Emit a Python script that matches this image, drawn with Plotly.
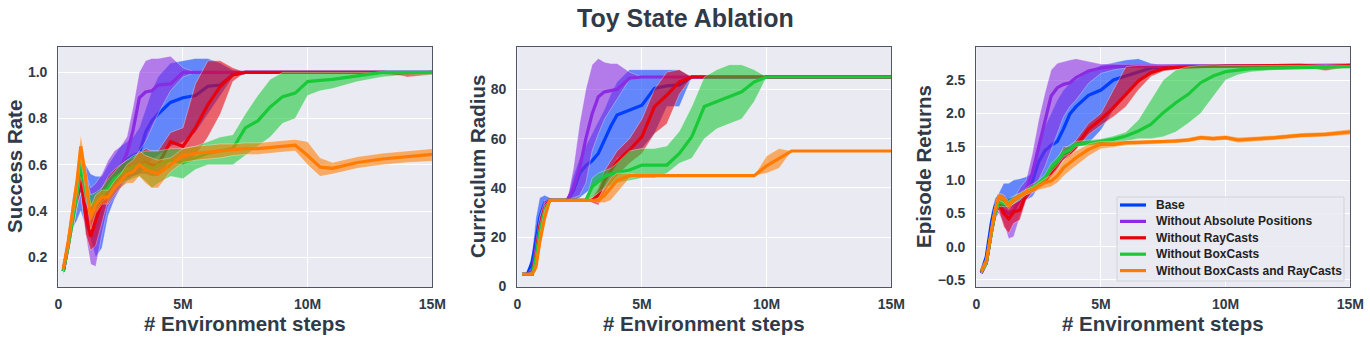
import plotly.graph_objects as go

# environment steps (millions)
steps = [0.2, 0.4, 0.6, 0.75, 0.9, 1.1, 1.3, 1.5, 1.75, 2.0, 2.25, 2.5, 2.75, 3.0, 3.25, 3.5,
         3.75, 4.0, 4.5, 5.0, 5.5, 6.0, 6.5, 7.0, 7.5, 8.0, 8.5, 9.0, 9.5, 10.0, 10.5, 11.0,
         12.0, 13.0, 14.0, 15.0]

names = ['Base', 'Without Absolute Positions', 'Without RayCasts', 'Without BoxCasts',
         'Without BoxCasts and RayCasts']
colors = ['#023EFF', '#8B2BE2', '#E8000B', '#1AC938', '#FF7C00']

# ---------------- Success Rate ----------------
sr_base = [0.14, 0.26, 0.40, 0.47, 0.55, 0.47, 0.42, 0.42, 0.45, 0.50, 0.54, 0.58, 0.62, 0.64, 0.65, 0.74,
           0.79, 0.82, 0.87, 0.89, 0.90, 0.94, 0.945, 0.99, 1.0, 1.0, 1.0, 1.0, 1.0, 1.0, 1.0, 1.0,
           1.0, 1.0, 1.0, 1.0]
sr_base_lo = [0.13, 0.22, 0.33, 0.36, 0.40, 0.33, 0.28, 0.20, 0.24, 0.38, 0.45, 0.50, 0.53, 0.55, 0.56, 0.60,
              0.62, 0.64, 0.68, 0.70, 0.74, 0.82, 0.90, 0.98, 1.0, 1.0, 1.0, 1.0, 1.0, 1.0, 1.0, 1.0,
              1.0, 1.0, 1.0, 1.0]
sr_base_hi = [0.15, 0.30, 0.47, 0.55, 0.62, 0.60, 0.56, 0.55, 0.55, 0.60, 0.64, 0.68, 0.70, 0.72, 0.76, 0.84,
              0.92, 0.98, 1.04, 1.05, 1.06, 1.06, 1.04, 1.01, 1.0, 1.0, 1.0, 1.0, 1.0, 1.0, 1.0, 1.0,
              1.0, 1.0, 1.0, 1.0]

sr_abs = [0.14, 0.25, 0.38, 0.48, 0.56, 0.45, 0.33, 0.40, 0.46, 0.50, 0.53, 0.59, 0.65, 0.75, 0.89, 0.915,
          0.92, 0.945, 0.95, 1.0, 1.0, 1.0, 1.0, 1.0, 1.0, 1.0, 1.0, 1.0, 1.0, 1.0, 1.0, 1.0,
          1.0, 1.0, 1.0, 1.0]
sr_abs_lo = [0.12, 0.22, 0.33, 0.42, 0.48, 0.30, 0.17, 0.16, 0.30, 0.42, 0.46, 0.50, 0.55, 0.62, 0.66, 0.70,
             0.76, 0.82, 0.92, 0.98, 1.0, 1.0, 1.0, 1.0, 1.0, 1.0, 1.0, 1.0, 1.0, 1.0, 1.0, 1.0,
             1.0, 1.0, 1.0, 1.0]
sr_abs_hi = [0.15, 0.28, 0.43, 0.54, 0.62, 0.56, 0.50, 0.52, 0.56, 0.62, 0.66, 0.68, 0.72, 0.85, 1.00, 1.05,
             1.06, 1.06, 1.07, 1.02, 1.0, 1.0, 1.0, 1.0, 1.0, 1.0, 1.0, 1.0, 1.0, 1.0, 1.0, 1.0,
             1.0, 1.0, 1.0, 1.0]

sr_ray = [0.14, 0.25, 0.38, 0.47, 0.55, 0.38, 0.29, 0.36, 0.44, 0.50, 0.54, 0.56, 0.58, 0.59, 0.60, 0.61,
          0.60, 0.60, 0.70, 0.68, 0.76, 0.86, 0.94, 0.99, 1.0, 1.0, 1.0, 1.0, 1.0, 1.0, 1.0, 1.0,
          1.0, 1.0, 0.995, 1.0]
sr_ray_lo = [0.13, 0.22, 0.33, 0.42, 0.48, 0.30, 0.23, 0.25, 0.35, 0.45, 0.50, 0.52, 0.54, 0.55, 0.56, 0.56,
             0.55, 0.55, 0.62, 0.60, 0.64, 0.72, 0.82, 0.96, 1.0, 1.0, 1.0, 1.0, 1.0, 1.0, 1.0, 1.0,
             1.0, 1.0, 0.98, 0.99]
sr_ray_hi = [0.15, 0.28, 0.43, 0.52, 0.60, 0.46, 0.36, 0.44, 0.50, 0.55, 0.58, 0.60, 0.62, 0.63, 0.65, 0.67,
             0.66, 0.66, 0.74, 0.76, 0.95, 1.05, 1.05, 1.02, 1.0, 1.0, 1.0, 1.0, 1.0, 1.0, 1.0, 1.0,
             1.0, 1.0, 1.0, 1.0]

sr_box = [0.14, 0.25, 0.38, 0.48, 0.61, 0.49, 0.42, 0.44, 0.47, 0.50, 0.54, 0.56, 0.58, 0.59, 0.60, 0.60,
          0.58, 0.60, 0.62, 0.61, 0.63, 0.65, 0.66, 0.67, 0.76, 0.79, 0.85, 0.895, 0.91, 0.96, 0.965, 0.97,
          0.985, 1.0, 1.0, 1.0]
sr_box_lo = [0.13, 0.22, 0.33, 0.42, 0.55, 0.44, 0.38, 0.40, 0.44, 0.46, 0.50, 0.52, 0.53, 0.54, 0.55, 0.53,
             0.50, 0.52, 0.55, 0.54, 0.58, 0.60, 0.60, 0.60, 0.64, 0.68, 0.72, 0.78, 0.80, 0.90, 0.92, 0.93,
             0.96, 0.98, 0.99, 0.99]
sr_box_hi = [0.15, 0.28, 0.43, 0.53, 0.65, 0.56, 0.47, 0.48, 0.50, 0.54, 0.57, 0.60, 0.62, 0.64, 0.65, 0.66,
             0.66, 0.66, 0.67, 0.67, 0.68, 0.70, 0.72, 0.73, 0.82, 0.90, 0.97, 1.0, 1.0, 1.0, 1.0, 1.0,
             1.0, 1.0, 1.0, 1.0]

sr_both = [0.15, 0.27, 0.42, 0.53, 0.68, 0.54, 0.37, 0.43, 0.46, 0.46, 0.50, 0.53, 0.56, 0.57, 0.60, 0.58,
           0.57, 0.56, 0.60, 0.64, 0.65, 0.655, 0.66, 0.665, 0.67, 0.67, 0.675, 0.68, 0.685, 0.64, 0.59, 0.585,
           0.61, 0.625, 0.635, 0.645]
sr_both_lo = [0.14, 0.24, 0.38, 0.48, 0.63, 0.48, 0.32, 0.39, 0.43, 0.43, 0.47, 0.50, 0.52, 0.52, 0.55, 0.52,
              0.50, 0.50, 0.57, 0.61, 0.62, 0.625, 0.63, 0.64, 0.645, 0.645, 0.65, 0.655, 0.66, 0.60, 0.55, 0.56,
              0.585, 0.60, 0.61, 0.615]
sr_both_hi = [0.16, 0.30, 0.46, 0.58, 0.73, 0.60, 0.42, 0.47, 0.49, 0.49, 0.53, 0.56, 0.60, 0.62, 0.66, 0.64,
              0.63, 0.62, 0.63, 0.67, 0.68, 0.685, 0.69, 0.69, 0.695, 0.695, 0.70, 0.705, 0.71, 0.70, 0.63, 0.61,
              0.635, 0.65, 0.66, 0.67]

# ---------------- Curriculum Radius ----------------
cr_base = [5, 5, 10, 20, 28, 34, 35, 35, 35, 35, 39, 46, 49, 51, 54, 59.5,
           65, 69.6, 71.6, 73.6, 80.4, 81.4, 81.8, 85, 85, 85, 85, 85, 85, 85, 85, 85,
           85, 85, 85, 85]
cr_base_lo = [5, 5, 5, 14, 22, 32, 35, 35, 35, 35, 35, 36, 38, 40, 42, 45,
              48, 52, 55, 56, 62, 73, 73, 85, 85, 85, 85, 85, 85, 85, 85, 85,
              85, 85, 85, 85]
cr_base_hi = [5, 5, 14, 28, 36, 37, 36, 35, 35, 35, 45, 52, 57, 62, 67, 72,
              78, 83, 88, 88, 88, 88, 88, 85, 85, 85, 85, 85, 85, 85, 85, 85,
              85, 85, 85, 85]

cr_abs = [5, 5, 6, 15, 25, 33, 35, 35, 35, 35, 40, 48, 60, 70, 77, 79,
          79.5, 80, 84.5, 85, 85, 85, 85, 85, 85, 85, 85, 85, 85, 85, 85, 85,
          85, 85, 85, 85]
cr_abs_lo = [5, 5, 5, 12, 22, 31, 35, 35, 35, 35, 36, 37, 42, 55, 62, 68,
             72, 76, 84, 85, 85, 85, 85, 85, 85, 85, 85, 85, 85, 85, 85, 85,
             85, 85, 85, 85]
cr_abs_hi = [5, 5, 8, 18, 28, 35, 35, 35, 35, 35, 48, 66, 80, 90, 92.5, 91,
             90.5, 90.5, 87, 85, 85, 85, 85, 85, 85, 85, 85, 85, 85, 85, 85, 85,
             85, 85, 85, 85]

cr_ray = [5, 5, 5, 13, 24, 32, 35, 35, 35, 35, 35, 35, 35, 35, 37, 43,
          47, 50.7, 55.4, 60.8, 73, 77.7, 83, 85, 85, 85, 85, 85, 85, 85, 85, 85,
          85, 85, 85, 85]
cr_ray_lo = [5, 5, 5, 10, 20, 30, 35, 35, 35, 35, 35, 35, 35, 34, 33, 38,
             42, 45, 50, 54, 62, 66, 78, 85, 85, 85, 85, 85, 85, 85, 85, 85,
             85, 85, 85, 85]
cr_ray_hi = [5, 5, 6, 16, 28, 34, 35, 35, 35, 35, 35, 35, 35, 36, 40, 47,
             51, 55, 60, 68, 80, 87, 88, 85, 85, 85, 85, 85, 85, 85, 85, 85,
             85, 85, 85, 85]

cr_box = [5, 5, 5, 12, 22, 30, 35, 35, 35, 35, 35, 35, 35, 40.5, 42.6, 44.6,
          45.7, 46.2, 47.3, 49.3, 49.3, 49.3, 54, 60.8, 73, 75, 77, 79, 83, 85, 85, 85,
          85, 85, 85, 85]
cr_box_lo = [5, 5, 5, 10, 19, 28, 35, 35, 35, 35, 35, 35, 35, 36, 38, 40,
             41, 42, 43, 44, 44, 46, 50, 52, 60, 64, 66, 68, 75, 85, 85, 85,
             85, 85, 85, 85]
cr_box_hi = [5, 5, 6, 14, 25, 33, 35, 35, 35, 35, 35, 35, 35, 44, 46, 47,
             48, 50, 55, 56, 56, 57, 63, 73, 85, 88, 90, 90, 88, 85, 85, 85,
             85, 85, 85, 85]

cr_both = [5, 5, 5, 8, 18, 28, 35, 35, 35, 35, 35, 35, 35, 35, 35, 37,
           40, 43, 45, 45, 45, 45, 45, 45, 45, 45, 45, 45, 45, 49, 52, 55,
           55, 55, 55, 55]
cr_both_lo = [5, 5, 5, 6, 15, 26, 35, 35, 35, 35, 35, 35, 35, 35, 34, 34,
              35, 38, 44, 45, 45, 45, 45, 45, 45, 45, 45, 45, 45, 46, 48, 55,
              55, 55, 55, 55]
cr_both_hi = [5, 5, 5, 10, 21, 31, 35, 35, 35, 35, 35, 35, 35, 35, 36, 40,
              44, 46, 46, 45, 45, 45, 45, 45, 45, 45, 45, 45, 45, 53, 56, 55,
              55, 55, 55, 55]

# ---------------- Episode Returns ----------------
er_base = [-0.38, -0.15, 0.35, 0.60, 0.70, 0.72, 0.70, 0.72, 0.78, 0.84, 0.98, 1.27, 1.44, 1.52, 1.58, 1.77,
           1.99, 2.10, 2.27, 2.35, 2.50, 2.56, 2.63, 2.68, 2.70, 2.71, 2.71, 2.71, 2.71, 2.71, 2.71, 2.71,
           2.72, 2.72, 2.72, 2.72]
er_base_lo = [-0.40, -0.20, 0.20, 0.45, 0.60, 0.60, 0.55, 0.60, 0.70, 0.70, 0.75, 0.90, 1.00, 1.10, 1.20, 1.30,
              1.40, 1.50, 1.55, 1.75, 2.05, 2.30, 2.50, 2.62, 2.68, 2.69, 2.69, 2.69, 2.69, 2.69, 2.69, 2.69,
              2.70, 2.70, 2.70, 2.70]
er_base_hi = [-0.36, -0.10, 0.50, 0.72, 0.80, 0.95, 0.95, 1.00, 1.02, 1.05, 1.10, 1.50, 1.80, 2.00, 2.20, 2.35,
              2.45, 2.50, 2.62, 2.72, 2.76, 2.80, 2.82, 2.75, 2.72, 2.73, 2.73, 2.73, 2.73, 2.73, 2.73, 2.73,
              2.74, 2.74, 2.74, 2.74]

er_abs = [-0.40, -0.25, 0.20, 0.50, 0.62, 0.55, 0.50, 0.55, 0.70, 0.85, 1.11, 1.51, 1.91, 2.26, 2.385, 2.435,
          2.46, 2.535, 2.635, 2.68, 2.70, 2.71, 2.71, 2.71, 2.71, 2.71, 2.71, 2.71, 2.71, 2.71, 2.71, 2.71,
          2.72, 2.72, 2.72, 2.72]
er_abs_lo = [-0.42, -0.30, 0.10, 0.40, 0.50, 0.35, 0.12, 0.15, 0.45, 0.70, 0.80, 1.00, 1.20, 1.45, 1.70, 1.95,
             2.10, 2.20, 2.45, 2.60, 2.65, 2.68, 2.69, 2.69, 2.69, 2.69, 2.69, 2.69, 2.69, 2.69, 2.69, 2.69,
             2.70, 2.70, 2.70, 2.70]
er_abs_hi = [-0.37, -0.20, 0.30, 0.60, 0.72, 0.70, 0.65, 0.72, 0.88, 1.00, 1.40, 1.90, 2.30, 2.65, 2.75, 2.78,
             2.80, 2.82, 2.78, 2.74, 2.74, 2.73, 2.73, 2.73, 2.73, 2.73, 2.73, 2.73, 2.73, 2.73, 2.73, 2.73,
             2.74, 2.74, 2.74, 2.74]

er_ray = [-0.38, -0.25, 0.20, 0.50, 0.65, 0.50, 0.42, 0.52, 0.55, 0.80, 0.88, 0.935, 0.985, 1.11, 1.235, 1.385,
          1.41, 1.51, 1.76, 1.91, 2.085, 2.285, 2.485, 2.61, 2.67, 2.69, 2.70, 2.71, 2.71, 2.71, 2.71, 2.71,
          2.72, 2.72, 2.70, 2.72]
er_ray_lo = [-0.40, -0.30, 0.10, 0.40, 0.55, 0.30, 0.20, 0.35, 0.40, 0.70, 0.82, 0.90, 0.95, 1.05, 1.15, 1.30,
             1.35, 1.45, 1.68, 1.82, 1.95, 2.10, 2.35, 2.55, 2.63, 2.66, 2.68, 2.69, 2.69, 2.69, 2.69, 2.69,
             2.70, 2.70, 2.64, 2.70]
er_ray_hi = [-0.36, -0.20, 0.30, 0.60, 0.75, 0.65, 0.60, 0.65, 0.70, 0.88, 0.94, 0.98, 1.03, 1.17, 1.30, 1.50,
             1.50, 1.60, 1.85, 2.00, 2.35, 2.70, 2.72, 2.72, 2.72, 2.72, 2.72, 2.72, 2.72, 2.72, 2.72, 2.72,
             2.73, 2.73, 2.73, 2.73]

er_box = [-0.38, -0.25, 0.20, 0.50, 0.68, 0.65, 0.65, 0.70, 0.75, 0.82, 0.88, 0.95, 1.03, 1.185, 1.28, 1.41,
          1.45, 1.535, 1.55, 1.585, 1.61, 1.66, 1.735, 1.835, 2.01, 2.16, 2.285, 2.46, 2.56, 2.625, 2.65, 2.67,
          2.68, 2.69, 2.70, 2.70]
er_box_lo = [-0.40, -0.30, 0.10, 0.42, 0.60, 0.60, 0.60, 0.65, 0.70, 0.78, 0.84, 0.90, 0.98, 1.12, 1.22, 1.35,
             1.40, 1.50, 1.52, 1.52, 1.55, 1.58, 1.62, 1.62, 1.65, 1.72, 1.85, 2.00, 2.25, 2.50, 2.58, 2.62,
             2.65, 2.66, 2.68, 2.68]
er_box_hi = [-0.36, -0.20, 0.30, 0.58, 0.75, 0.72, 0.72, 0.76, 0.80, 0.86, 0.92, 1.00, 1.08, 1.25, 1.34, 1.47,
             1.52, 1.58, 1.60, 1.62, 1.66, 1.72, 1.90, 2.20, 2.50, 2.65, 2.70, 2.72, 2.73, 2.72, 2.72, 2.72,
             2.72, 2.73, 2.73, 2.72]

er_both = [-0.36, -0.22, 0.22, 0.55, 0.75, 0.72, 0.62, 0.70, 0.76, 0.82, 0.85, 0.91, 0.96, 0.985, 1.06, 1.185,
           1.26, 1.335, 1.46, 1.535, 1.535, 1.56, 1.565, 1.57, 1.575, 1.585, 1.60, 1.635, 1.62, 1.635, 1.60, 1.61,
           1.635, 1.67, 1.685, 1.72]
er_both_lo = [-0.40, -0.27, 0.15, 0.48, 0.70, 0.66, 0.56, 0.65, 0.72, 0.78, 0.81, 0.85, 0.88, 0.90, 0.96, 1.06,
              1.14, 1.22, 1.36, 1.47, 1.49, 1.52, 1.53, 1.54, 1.545, 1.55, 1.565, 1.60, 1.585, 1.60, 1.56, 1.57,
              1.60, 1.635, 1.65, 1.68]
er_both_hi = [-0.32, -0.17, 0.29, 0.62, 0.80, 0.78, 0.68, 0.75, 0.80, 0.86, 0.89, 0.96, 1.02, 1.07, 1.15, 1.30,
              1.37, 1.44, 1.54, 1.58, 1.58, 1.59, 1.595, 1.60, 1.605, 1.62, 1.635, 1.67, 1.655, 1.67, 1.64, 1.65,
              1.67, 1.705, 1.72, 1.76]

panels = [
    ('Success Rate', [(sr_base, sr_base_lo, sr_base_hi), (sr_abs, sr_abs_lo, sr_abs_hi),
                      (sr_ray, sr_ray_lo, sr_ray_hi), (sr_box, sr_box_lo, sr_box_hi),
                      (sr_both, sr_both_lo, sr_both_hi)],
     [0.07, 1.111], [0.2, 0.4, 0.6, 0.8, 1.0], '.1f'),
    ('Curriculum Radius', [(cr_base, cr_base_lo, cr_base_hi), (cr_abs, cr_abs_lo, cr_abs_hi),
                           (cr_ray, cr_ray_lo, cr_ray_hi), (cr_box, cr_box_lo, cr_box_hi),
                           (cr_both, cr_both_lo, cr_both_hi)],
     [-0.3, 97.3], [0, 20, 40, 60, 80], 'd'),
    ('Episode Returns', [(er_base, er_base_lo, er_base_hi), (er_abs, er_abs_lo, er_abs_hi),
                         (er_ray, er_ray_lo, er_ray_hi), (er_box, er_box_lo, er_box_hi),
                         (er_both, er_both_lo, er_both_hi)],
     [-0.61, 3.0], [-0.5, 0.0, 0.5, 1.0, 1.5, 2.0, 2.5], '.1f'),
]

W, H = 1370, 340
FONT = 'Liberation Sans, Arial, sans-serif'
TXT = '#303a48'


def px(x):
    return x / W


def py(y):
    return 1 - y / H


x_doms = [(58.3, 432.3), (517.3, 891.3), (976.3, 1350.3)]
ylab_x = [14, 477, 923]
y_dom = [py(287.3), py(46.7)]


def rgba(hexc, a):
    h = hexc.lstrip('#')
    return 'rgba({},{},{},{})'.format(int(h[0:2], 16), int(h[2:4], 16), int(h[4:6], 16), a)


fig = go.Figure()
annotations = []
shapes = []
for p, (ylabel, series, yrange, yticks, fmt) in enumerate(panels):
    ax = '' if p == 0 else str(p + 1)
    for s, (mean, lo, hi) in enumerate(series):
        fig.add_trace(go.Scatter(
            x=steps + steps[::-1], y=hi + lo[::-1], fill='toself',
            fillcolor=rgba(colors[s], 0.58), line=dict(color='rgba(255,255,255,0.55)', width=0.6),
            mode='lines', hoverinfo='skip', showlegend=False,
            xaxis='x' + ax, yaxis='y' + ax))
        fig.add_trace(go.Scatter(
            x=steps, y=mean, mode='lines', name=names[s],
            line=dict(color=colors[s], width=3.2),
            showlegend=False, xaxis='x' + ax, yaxis='y' + ax))

    x0, x1 = x_doms[p]
    common = dict(showgrid=True, gridcolor='white', gridwidth=1.2, zeroline=False,
                  showline=True, mirror=True, linecolor='#4f5766', linewidth=1.3,
                  automargin=False, ticks='outside', tickcolor='rgba(0,0,0,0)',
                  tickfont=dict(family=FONT, size=14, color=TXT, weight='bold'))
    fig.layout['xaxis' + ax] = dict(
        domain=[px(x0), px(x1)], range=[0, 15], anchor='y' + ax, ticklen=4,
        tickvals=[0, 5, 10, 15], ticktext=['0', '5M', '10M', '15M'], **common)
    fig.layout['yaxis' + ax] = dict(
        domain=y_dom, range=yrange, anchor='x' + ax, ticklen=7,
        tickvals=yticks, tickformat=fmt, **common)

    annotations.append(dict(
        text='# Environment steps', x=px((x0 + x1) / 2), y=py(323),
        xref='paper', yref='paper', showarrow=False, xanchor='center', yanchor='middle',
        font=dict(family=FONT, size=20.5, color=TXT, weight='bold')))
    annotations.append(dict(
        text=ylabel, x=px(ylab_x[p]), y=py(167), textangle=-90,
        xref='paper', yref='paper', showarrow=False, xanchor='center', yanchor='middle',
        font=dict(family=FONT, size=20.5, color=TXT, weight='bold')))

annotations.append(dict(
    text='Toy State Ablation', x=px(685), y=py(18), xref='paper', yref='paper',
    showarrow=False, xanchor='center', yanchor='middle',
    font=dict(family=FONT, size=25, color=TXT, weight='bold')))

# legend drawn inside the third panel (matplotlib-style compact spacing)
lx0, ly0, lx1, ly1 = 1117, 197, 1344, 281
shapes.append(dict(type='rect', xref='paper', yref='paper',
                   x0=px(lx0), x1=px(lx1), y0=py(ly1), y1=py(ly0),
                   fillcolor='rgba(234,234,242,0.85)', line=dict(color='#d2d2da', width=1)))
for s, name in enumerate(names):
    yc = 205 + 16.4 * s
    shapes.append(dict(type='line', xref='paper', yref='paper',
                       x0=px(1120), x1=px(1146), y0=py(yc), y1=py(yc),
                       line=dict(color=colors[s], width=3.2)))
    annotations.append(dict(
        text=name, x=px(1154), y=py(yc), xref='paper', yref='paper',
        showarrow=False, xanchor='left', yanchor='middle',
        font=dict(family=FONT, size=12, color='#222222', weight='bold')))

fig.update_layout(
    width=W, height=H, margin=dict(l=0, r=0, t=0, b=0),
    paper_bgcolor='white', plot_bgcolor='#EAEAF2',
    annotations=annotations, shapes=shapes, showlegend=False,
)

# drop the default 8px page margin so the figure fills the window exactly
fig.write_html('out.html', config={'displayModeBar': False},
               post_script="document.body.style.margin='0px';")
